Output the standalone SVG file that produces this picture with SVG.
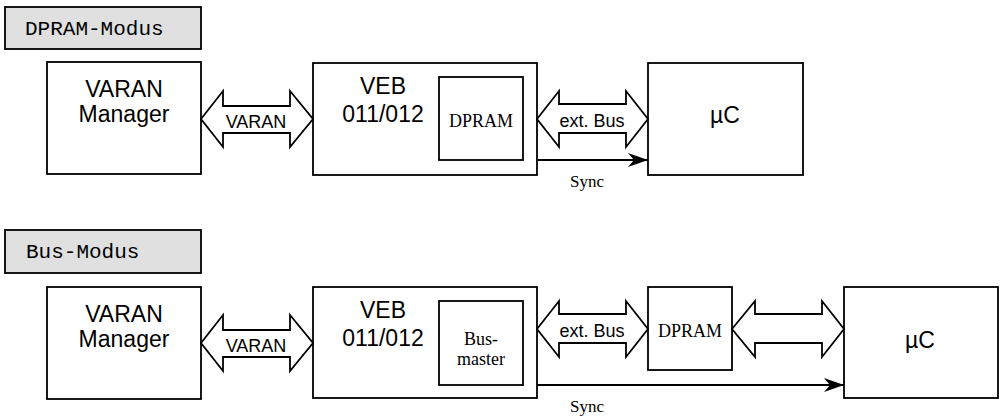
<svg xmlns="http://www.w3.org/2000/svg" width="1002" height="416" viewBox="0 0 1002 416">
<style>
.box{fill:#fff;stroke:#000;stroke-width:1.8}
.lbl{fill:#e0e0e0;stroke:#000;stroke-width:1.8}
.dbl{fill:#fff;stroke:#000;stroke-width:1.8;stroke-linejoin:miter}
.ln{fill:none;stroke:#000;stroke-width:1.8}
.mono{font-family:"Liberation Mono","Courier New",monospace;font-size:21px}
.sans{font-family:"Liberation Sans",Arial,sans-serif;font-size:23px;text-anchor:middle}
.sans18{font-family:"Liberation Sans",Arial,sans-serif;font-size:18px;text-anchor:middle}
.serif{font-family:"Liberation Serif","Times New Roman",serif;font-size:18px;text-anchor:middle}
.serif16{font-family:"Liberation Serif","Times New Roman",serif;font-size:17px;text-anchor:middle}
</style>
<defs>
<marker id="ah" markerUnits="userSpaceOnUse" markerWidth="22" markerHeight="14" refX="20" refY="7" orient="auto">
<path d="M0,0 L20,7 L0,14 L6,7 z" fill="#000"/>
</marker>
</defs>
<rect width="1002" height="416" fill="#fff"/>

<!-- Top section -->
<g id="label-dpram-modus">
<rect class="lbl" x="5" y="7" width="196" height="42"/>
<text class="mono" x="25" y="35">DPRAM-Modus</text>
</g>
<g id="varan-manager-1">
<rect class="box" x="47" y="62" width="154" height="112"/>
<text class="sans" x="124" y="97">VARAN</text>
<text class="sans" x="124" y="122">Manager</text>
</g>
<g id="veb-1">
<rect class="box" x="313" y="63" width="224" height="112"/>
<text class="sans" x="383" y="94">VEB</text>
<text class="sans" x="383" y="122">011/012</text>
</g>
<g id="dpram-1">
<rect class="box" x="439" y="77" width="84" height="83"/>
<text class="serif" x="481" y="127">DPRAM</text>
</g>
<g id="uc-1">
<rect class="box" x="648" y="63" width="155" height="112"/>
<text class="sans" x="725" y="123">µC</text>
</g>

<!-- Bottom section -->
<g id="label-bus-modus">
<rect class="lbl" x="5" y="230" width="196" height="43"/>
<text class="mono" x="26" y="258">Bus-Modus</text>
</g>
<g id="varan-manager-2">
<rect class="box" x="47" y="287" width="154" height="112"/>
<text class="sans" x="124" y="322">VARAN</text>
<text class="sans" x="124" y="347">Manager</text>
</g>
<g id="veb-2">
<rect class="box" x="313" y="287" width="224" height="111"/>
<text class="sans" x="383" y="318">VEB</text>
<text class="sans" x="383" y="346">011/012</text>
</g>
<g id="busmaster">
<rect class="box" x="439" y="301" width="84" height="84"/>
<text class="serif" x="481" y="345">Bus-</text>
<text class="serif" x="481" y="365">master</text>
</g>
<g id="dpram-2">
<rect class="box" x="648" y="287" width="84" height="83"/>
<text class="serif" x="690" y="337">DPRAM</text>
</g>
<g id="uc-2">
<rect class="box" x="844" y="287" width="154" height="111"/>
<text class="sans" x="920" y="348">µC</text>
</g>

<g id="connectors">
<polygon class="dbl" points="201,119 223,91 223,106 290,106 290,91 313,119 290,147 290,133 223,133 223,147"/>
<text class="sans18" x="256" y="128">VARAN</text>
<polygon class="dbl" points="537,119 559,91 559,104 626,104 626,91 648,119 626,147 626,133 559,133 559,147"/>
<text class="sans18" x="592" y="127">ext. Bus</text>
<line class="ln" x1="537" y1="160" x2="648" y2="160" marker-end="url(#ah)"/>
<text class="serif16" x="587" y="187">Sync</text>

<polygon class="dbl" points="201,343 223,315 223,330 290,330 290,315 313,343 290,371 290,357 223,357 223,371"/>
<text class="sans18" x="256" y="352">VARAN</text>
<polygon class="dbl" points="537,329 559,301 559,314 626,314 626,301 648,329 626,357 626,343 559,343 559,357"/>
<text class="sans18" x="592" y="337">ext. Bus</text>
<polygon class="dbl" points="732,329 755,301 755,314 822,314 822,301 844,329 822,357 822,343 755,343 755,357"/>
<line class="ln" x1="537" y1="385" x2="844" y2="385" marker-end="url(#ah)"/>
<text class="serif16" x="587" y="412">Sync</text>
</g>
</svg>
